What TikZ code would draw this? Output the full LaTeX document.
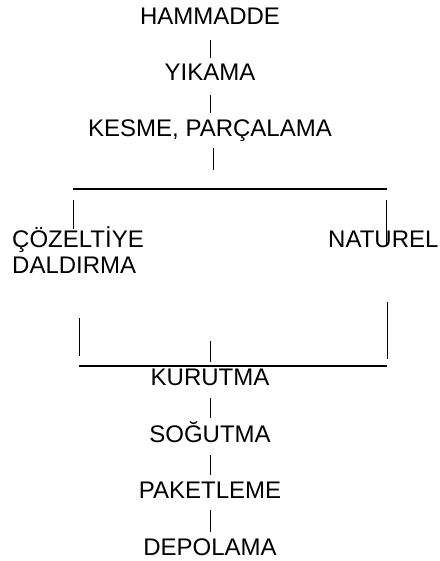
\documentclass[tikz,border=0pt]{standalone}
\usepackage{fontspec}
\setmainfont{Liberation Sans}
\begin{document}
\begin{tikzpicture}[x=1pt,y=-1pt,
  lbl/.style={inner sep=0pt,font=\fontsize{24}{26}\selectfont},
  stepline/.style={line width=0.9pt,black},
  bar/.style={line width=1.2pt,black}]
\useasboundingbox (0,0) rectangle (439,561);
% process steps, set on their baselines
\node[lbl,anchor=base] (ham) at (210,25) {HAMMADDE};
\node[lbl,anchor=base] (yik) at (210,81) {YIKAMA};
\node[lbl,anchor=base] (kes) at (210,137) {KESME, PARÇALAMA};
% two-line label: base anchor sits on the last line
\node[lbl,anchor=base west,align=left] (coz) at (12,273) {ÇÖZELTİYE\\DALDIRMA};
\node[lbl,anchor=base west] (nat) at (328,247) {NATUREL};
\node[lbl,anchor=base] (kur) at (210,385) {KURUTMA};
\node[lbl,anchor=base] (sog) at (210,442) {SOĞUTMA};
\node[lbl,anchor=base] (pak) at (210,498) {PAKETLEME};
\node[lbl,anchor=base] (dep) at (210,555) {DEPOLAMA};
% connector end points
\coordinate (a1) at (210,40);  \coordinate (a2) at (210,58);
\coordinate (b1) at (210,95);  \coordinate (b2) at (210,113);
\coordinate (c1) at (213,148); \coordinate (c2) at (213,170);
\coordinate (sL) at (73,189);  \coordinate (sR) at (387,189);
\coordinate (d1) at (73,200);  \coordinate (d2) at (73,229);
\coordinate (e1) at (386,200); \coordinate (e2) at (386,245);
\coordinate (f1) at (79,318);  \coordinate (f2) at (79,356);
\coordinate (g1) at (387,302); \coordinate (g2) at (387,359);
\coordinate (h1) at (210,341); \coordinate (h2) at (210,362);
\coordinate (jL) at (79,366);  \coordinate (jR) at (387,366);
\coordinate (k1) at (210,398); \coordinate (k2) at (210,418);
\coordinate (m1) at (210,455); \coordinate (m2) at (210,475);
\coordinate (n1) at (210,510); \coordinate (n2) at (210,532);
% connectors
\draw[stepline] (a1) -- (a2);
\draw[stepline] (b1) -- (b2);
\draw[stepline] (c1) -- (c2);
\draw[bar] (sL) -- (sR);
\draw[stepline] (d1) -- (d2);
\draw[stepline] (e1) -- (e2);
\draw[stepline] (f1) -- (f2);
\draw[stepline] (g1) -- (g2);
\draw[stepline] (h1) -- (h2);
\draw[bar] (jL) -- (jR);
\draw[stepline] (k1) -- (k2);
\draw[stepline] (m1) -- (m2);
\draw[stepline] (n1) -- (n2);
\end{tikzpicture}
\end{document}
